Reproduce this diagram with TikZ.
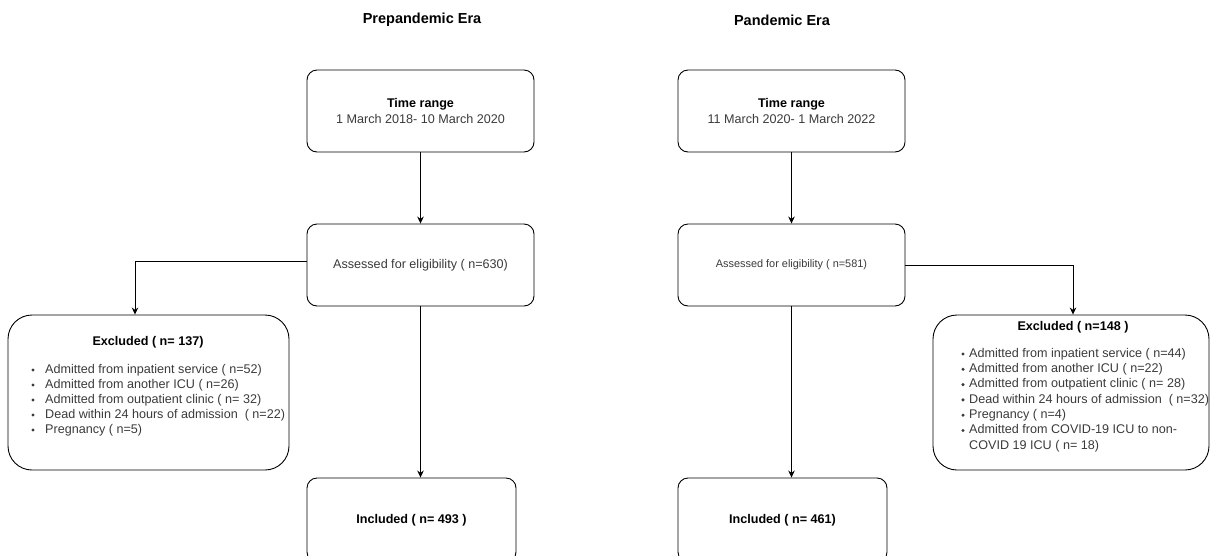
\documentclass[tikz,border=0pt]{standalone}
\usepackage{fontspec}
\setmainfont{Liberation Sans}
\usetikzlibrary{positioning}
\usetikzlibrary{arrows.meta}
\definecolor{txtgray}{HTML}{3A3A3A}
\newcommand{\bodyfont}{\fontsize{12.6}{16}\selectfont}
\newcommand{\smallbody}{\fontsize{10.9}{13}\selectfont}
\newcommand{\headfont}{\fontsize{14.5}{17}\selectfont\bfseries}
\tikzset{rbox/.style = {draw, line width=0.9pt, rounded corners=10pt, align=center, inner sep=0pt}}
\tikzset{exbox/.style = {draw, line width=0.9pt, rounded corners=24pt, inner sep=0pt}}
\tikzset{item/.style = {anchor=west, inner sep=0pt, text=txtgray, font=\bodyfont}}
\tikzset{bul/.style = {fill=txtgray, circle, inner sep=0, minimum size=3.4pt}}
\tikzset{arr/.style = {line width=0.9pt, -{Stealth[length=7pt,width=6.5pt]}}}

\begin{document}
\begin{tikzpicture}[x=1pt, y=-1pt]
    \useasboundingbox (0,0) rectangle (1210,555);
    \clip (0,0) rectangle (1210,555);
    % titles
    \node (ltitle) at (422,20) {\headfont Prepandemic Era};
    \node (rtitle) at (782,20) {\headfont Pandemic Era};
    % prepandemic era
    \node[rbox, minimum width=227pt, minimum height=82pt, font=\bodyfont] (ltime) at (420.5,111)
        {\textbf{Time range}\\\textcolor{txtgray}{1 March 2018- 10 March 2020}};
    \node[rbox, minimum width=227pt, minimum height=82pt, font=\bodyfont, text=txtgray] (lass) at (420.5,265)
        {Assessed for eligibility ( n=630)};
    \node[exbox, minimum width=281pt, minimum height=155pt] (lexc) at (148.5,392.5) {};
    \node[inner sep=0pt, font=\bodyfont\bfseries] (lexctitle) at (148,342) {Excluded ( n= 137)};
    \foreach \txt [count=\i] in {Admitted from inpatient service ( n=52),
        Admitted from another ICU ( n=26),
        Admitted from outpatient clinic ( n= 32),
        Dead within 24 hours of admission~ ( n=22),
        Pregnancy ( n=5)} {
        \node[bul] at (33,355+15*\i) {};
        \node[item] (lex\i) at (45,355+15*\i) {\txt};
    }
    \node[rbox, minimum width=209pt, minimum height=84pt, font=\bodyfont\bfseries] (linc) at (411.5,520)
        {Included ( n= 493 )};
    % pandemic era
    \node[rbox, minimum width=227pt, minimum height=82pt, font=\bodyfont] (rtime) at (791.5,111)
        {\textbf{Time range}\\\textcolor{txtgray}{11 March 2020- 1 March 2022}};
    \node[rbox, minimum width=227pt, minimum height=82pt, font=\smallbody, text=txtgray] (rass) at (791.5,265)
        {Assessed for eligibility ( n=581)};
    \node[exbox, minimum width=276pt, minimum height=155pt] (rexc) at (1071,392.5) {};
    \node[inner sep=0pt, font=\bodyfont\bfseries] (rexctitle) at (1073,327) {Excluded ( n=148 )};
    \foreach \txt [count=\i] in {Admitted from inpatient service ( n=44),
        Admitted from another ICU ( n=22),
        Admitted from outpatient clinic ( n= 28),
        Dead within 24 hours of admission~ ( n=32),
        Pregnancy ( n=4)} {
        \node[bul] at (963,338.7+15.3*\i) {};
        \node[item] (rex\i) at (969,338.7+15.3*\i) {\txt};
    }
    \node[bul] at (963,430.5) {};
    \node[item, align=left, font=\fontsize{12.6}{15.3}\selectfont] (rex6) at (969,438.2)
        {Admitted from COVID-19 ICU to non-\\COVID 19 ICU ( n= 18)};
    \node[rbox, minimum width=209pt, minimum height=84pt, font=\bodyfont\bfseries] (rinc) at (782.5,520)
        {Included ( n= 461)};
    % connectors
    \coordinate (lbend) at (135,261);
    \coordinate (rbend) at (1073,265);
    \draw[arr] (ltime) -- (lass);
    \draw[arr] (lass) -- (lass.south |- linc.north);
    \draw[arr] (lass.west |- lbend) -- (lbend) -- (lbend |- lexc.north);
    \draw[arr] (rtime) -- (rass);
    \draw[arr] (rass) -- (rass.south |- rinc.north);
    \draw[arr] (rass.east) -- (rbend) -- (rbend |- rexc.north);
\end{tikzpicture}
\end{document}
